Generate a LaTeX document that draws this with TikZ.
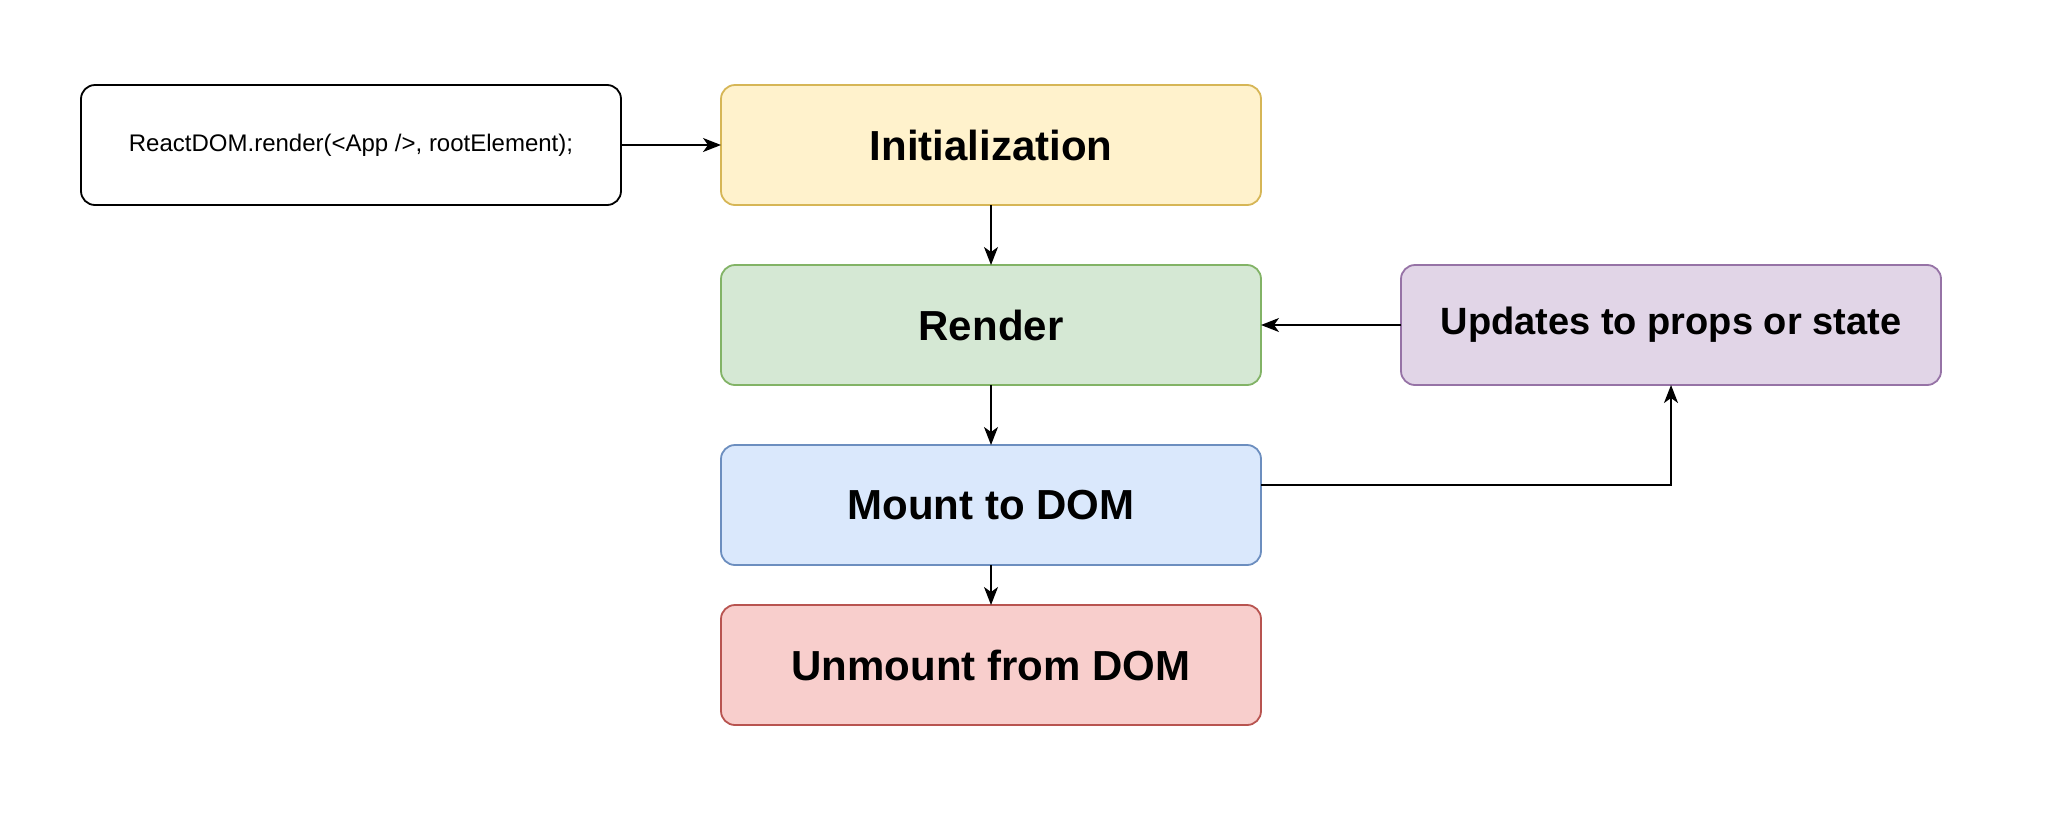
\documentclass[tikz,border=0pt]{standalone}
\usepackage{fontspec}
\setmainfont{Liberation Sans}
\usetikzlibrary{arrows.meta}
\usetikzlibrary{positioning}
\definecolor{initfill}{HTML}{FFF2CC}
\definecolor{initdraw}{HTML}{D6B656}
\definecolor{renderfill}{HTML}{D5E8D4}
\definecolor{renderdraw}{HTML}{82B366}
\definecolor{mountfill}{HTML}{DAE8FC}
\definecolor{mountdraw}{HTML}{6C8EBF}
\definecolor{unmountfill}{HTML}{F8CECC}
\definecolor{unmountdraw}{HTML}{B85450}
\definecolor{updfill}{HTML}{E1D5E7}
\definecolor{upddraw}{HTML}{9673A6}
\tikzset {
  % plain rounded box
  phase box/.style = {
    draw = black,
    rectangle,
    rounded corners = 7pt,
    line width = 0.9pt,
    minimum width = 270pt,
    minimum height = 60pt,
    inner sep = 0,
    outer sep = 0
  },
  % box with code text
  code/.style = {
    phase box,
    font = \fontsize{12}{14}\selectfont
  },
  % lifecycle step
  stage/.style = {
    phase box,
    font = \fontsize{21}{25}\selectfont\bfseries
  },
  % path style with an arrow tip
  flow/.style = {
    draw = black,
    line width = 0.8pt,
    -{Stealth[length = 9pt, width = 7pt, inset = 2.5pt]}
  },
  node distance = 30pt
}
\begin{document}
\begin{tikzpicture}[x = 0.5pt, y = -0.5pt]
    \useasboundingbox (0,0) rectangle (2054,814);
    \node[code] (root) at (351,145) {\raisebox{-1pt}{ReactDOM.render(<App />, rootElement);}};
    \node[stage, fill = initfill, draw = initdraw] (init) [right=50pt of root] {Initialization};
    \node[stage, fill = renderfill, draw = renderdraw] (render) [below=of init] {Render};
    \node[stage, fill = mountfill, draw = mountdraw] (mount) [below=of render] {Mount to DOM};
    \node[stage, fill = unmountfill, draw = unmountdraw] (unmount) [below=20pt of mount] {Unmount from DOM};
    \node[stage, fill = updfill, draw = upddraw, font = \fontsize{19}{23}\selectfont\bfseries] (updates) [right=70pt of render] {Updates to props or state};

    \draw[flow] (root) -- (init);
    \draw[flow] (init) -- (render);
    \draw[flow] (render) -- (mount);
    \draw[flow] (mount) -- (unmount);
    \draw[flow] (updates) -- (render);
    \draw[flow] ([yshift = 10pt]mount.east) -| (updates.south);
  \end{tikzpicture}
\end{document}
